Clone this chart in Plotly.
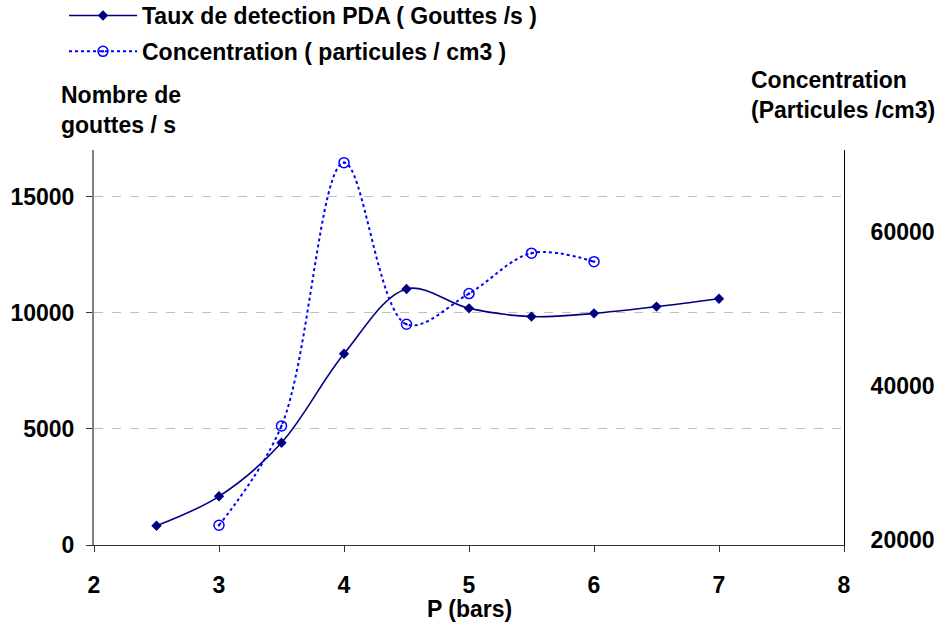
import plotly.graph_objects as go

# Data
p_pda = [2.5, 3, 3.5, 4, 4.5, 5, 5.5, 6, 6.5, 7]
taux_pda = [830, 2095, 4400, 8230, 11020, 10185, 9830, 9970, 10260, 10600]

p_conc = [3, 3.5, 4, 4.5, 5, 5.5, 6]
concentration = [21870, 34770, 68960, 47970, 51950, 57200, 56100]

name_pda = "Taux de detection PDA ( Gouttes /s )"
name_conc = "Concentration ( particules / cm3 )"

x_ticks = [2, 3, 4, 5, 6, 7, 8]
y_ticks = [0, 5000, 10000, 15000]
y2_ticks = [20000, 40000, 60000]
y2_range = [19300, 70600]

FONT = "Liberation Sans, Arial, sans-serif"
FS = 23

fig = go.Figure()
fig.add_trace(go.Scatter(
    x=p_pda, y=taux_pda, name=name_pda, mode="lines+markers", legendgroup="a",
    line=dict(color="#000080", width=1.6, shape="spline"),
    marker=dict(symbol="diamond", size=8, color="#000080"),
    yaxis="y"))
fig.add_trace(go.Scatter(
    x=p_conc, y=concentration, name=name_conc, mode="lines+markers", legendgroup="b",
    line=dict(color="#0000FF", width=2, dash="dot", shape="spline"),
    marker=dict(symbol="circle-open-dot", size=10, color="#0000FF", line=dict(width=1.5)),
    yaxis="y2"))

right_tick_axis = dict(range=y2_range, tickvals=y2_ticks, overlaying="y", side="right",
                       showgrid=False, zeroline=False, showline=False,
                       showticklabels=False, tickcolor="#555555", tickwidth=1)

fig.update_layout(
    width=944, height=626,
    margin=dict(l=94, r=100, t=150, b=81, autoexpand=False),
    paper_bgcolor="white", plot_bgcolor="white",
    font=dict(family=FONT, size=FS, color="black", weight="bold"),
    showlegend=True,
    legend=dict(x=-0.04, y=1.395, xanchor="left", yanchor="top",
                bgcolor="rgba(0,0,0,0)", itemwidth=68,
                font=dict(family=FONT, size=FS, weight="bold"),
                tracegroupgap=3),
    xaxis=dict(range=[2, 8], tickvals=x_ticks, showgrid=False, zeroline=False,
               showline=True, linecolor="#333333", linewidth=1,
               ticks="outside", ticklen=6, tickcolor="#333333",
               ticklabelstandoff=13,
               tickfont=dict(family=FONT, size=FS, weight="bold")),
    yaxis=dict(range=[0, 17000], tickvals=y_ticks, tickformat="d",
               showgrid=True, gridcolor="#C0C0C0", griddash="dash", gridwidth=1,
               zeroline=False, showline=True, linecolor="#808080", linewidth=2,
               ticks="outside", ticklen=6, tickcolor="#333333",
               ticklabelstandoff=7,
               tickfont=dict(family=FONT, size=FS, weight="bold")),
    yaxis2=dict(range=y2_range, tickvals=y2_ticks, tickformat="d",
                overlaying="y", side="right", showgrid=False, zeroline=False,
                showline=True, linecolor="black", linewidth=1,
                ticks="outside", ticklen=21, tickcolor="rgba(0,0,0,0)",
                tickfont=dict(family=FONT, size=FS, weight="bold")),
    yaxis3=dict(right_tick_axis, ticks="outside", ticklen=9),
    yaxis4=dict(right_tick_axis, ticks="inside", ticklen=7),
    annotations=[
        dict(text="Nombre de<br>gouttes / s", xref="paper", yref="paper",
             x=-0.047, y=1.101, xanchor="left", yanchor="middle", showarrow=False,
             align="left", font=dict(family=FONT, size=FS, weight="bold")),
        dict(text="Concentration<br>(Particules /cm3)", xref="paper", yref="paper",
             x=0.873, y=1.14, xanchor="left", yanchor="middle", showarrow=False,
             align="left", font=dict(family=FONT, size=FS, weight="bold")),
        dict(text="P (bars)", xref="paper", yref="paper",
             x=0.501, y=-0.162, xanchor="center", yanchor="middle", showarrow=False,
             font=dict(family=FONT, size=FS, weight="bold")),
    ],
)

fig.write_html("out.html", config={"displayModeBar": False},
               post_script="document.body.style.margin='0';document.body.style.padding='0';")
